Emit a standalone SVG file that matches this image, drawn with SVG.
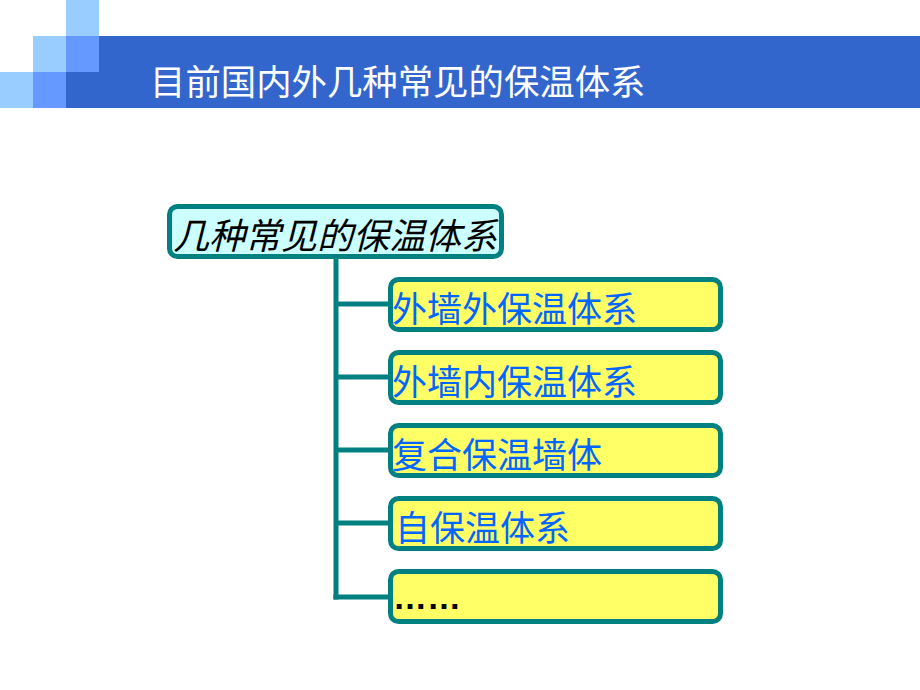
<svg xmlns="http://www.w3.org/2000/svg" width="920" height="690" viewBox="0 0 920 690">
<style>
.light{fill:#99ccff}
.mid{fill:#6699ff}
.bar{fill:#3366cc}
.title{font-family:"Noto Sans CJK SC","Noto Sans",sans-serif;font-size:35.4px;fill:#ffffff}
.root{fill:#ccffff;stroke:#008080;stroke-width:5}
.child{fill:#ffff66;stroke:#008080;stroke-width:5}
.rtext{font-family:"Noto Sans CJK SC",sans-serif;font-size:36px;font-style:italic;fill:#000000}
.ctext{font-family:"Noto Sans CJK SC",sans-serif;font-size:35px;fill:#0066ff}
.conn{stroke:#008080;stroke-width:5;fill:none}
</style>
<rect width="920" height="690" fill="#ffffff"/>
<g id="decor">
<rect class="light" x="66" y="0" width="33" height="36"/>
<rect class="light" x="33" y="36" width="33" height="36"/>
<rect class="mid" x="66" y="36" width="33" height="36"/>
<rect class="light" x="0" y="72" width="33" height="36"/>
<rect class="mid" x="33" y="72" width="33" height="36"/>
<rect class="bar" x="66" y="72" width="33" height="36"/>
<rect class="bar" x="99" y="36" width="821" height="72"/>
<text class="title" x="150" y="95">目前国内外几种常见的保温体系</text>
</g>
<g id="connectors">
<line class="conn" x1="336" y1="258" x2="336" y2="599.5"/>
<line class="conn" x1="336" y1="304" x2="390" y2="304"/>
<line class="conn" x1="336" y1="377" x2="390" y2="377"/>
<line class="conn" x1="336" y1="450" x2="390" y2="450"/>
<line class="conn" x1="336" y1="523" x2="390" y2="523"/>
<line class="conn" x1="333.5" y1="597" x2="390" y2="597"/>
</g>
<g id="root">
<rect class="root" x="169.5" y="206.5" width="332" height="50" rx="8"/>
<text class="rtext" x="173" y="249">几种常见的保温体系</text>
</g>
<g id="n1">
<rect class="child" x="390.5" y="279.5" width="330" height="50" rx="8"/>
<text class="ctext" x="392" y="322">外墙外保温体系</text>
</g>
<g id="n2">
<rect class="child" x="390.5" y="352.5" width="330" height="50" rx="8"/>
<text class="ctext" x="392" y="395">外墙内保温体系</text>
</g>
<g id="n3">
<rect class="child" x="390.5" y="425.5" width="330" height="50" rx="8"/>
<text class="ctext" x="392" y="468">复合保温墙体</text>
</g>
<g id="n4">
<rect class="child" x="390.5" y="498.5" width="330" height="50" rx="8"/>
<text class="ctext" x="395" y="541">自保温体系</text>
</g>
<g id="n5">
<rect class="child" x="390.5" y="571.5" width="330" height="50" rx="8"/>
<text x="393" y="609" font-family="Liberation Sans, sans-serif" font-size="34" font-weight="bold" fill="#000000">……</text>
</g>
</svg>
